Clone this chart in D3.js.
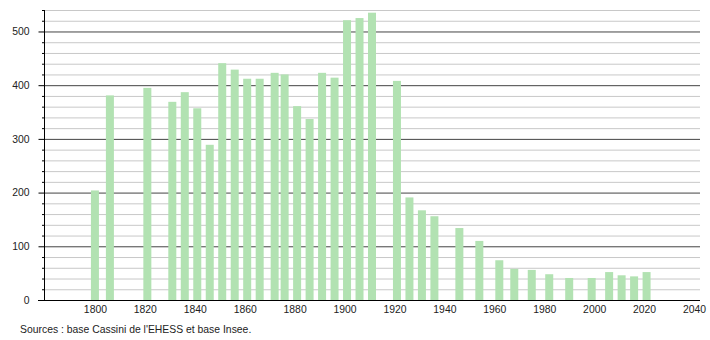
<!DOCTYPE html>
<html>
<head>
<meta charset="utf-8">
<script src="https://cdn.jsdelivr.net/npm/d3@7"></script>
<style>
  body { margin: 0; background: #fff; }
  svg text { font-family: "Liberation Sans", Arial, sans-serif; fill: #222; }
</style>
</head>
<body>
<svg id="canvas" width="710" height="340"></svg>
<script>
// census years and population
let years = [1800, 1806, 1821, 1831, 1836, 1841, 1846, 1851, 1856, 1861, 1866, 1872, 1876,
             1881, 1886, 1891, 1896, 1901, 1906, 1911, 1921, 1926, 1931, 1936, 1946, 1954,
             1962, 1968, 1975, 1982, 1990, 1999, 2006, 2011, 2016, 2021];
let population = [204, 381, 395, 369, 387, 357, 289, 441, 429, 412, 412, 423, 420,
                  361, 337, 423, 414, 521, 525, 535, 408, 191, 167, 156, 134, 110,
                  74, 58, 56, 48, 41, 41, 52, 46, 44, 52];
let xTicks = [1800, 1820, 1840, 1860, 1880, 1900, 1920, 1940, 1960, 1980, 2000, 2020, 2040];
let yTicks = [0, 100, 200, 300, 400, 500];
let sourceText = "Sources : base Cassini de l'EHESS et base Insee.";

const plotLeft = 44, plotRight = 700, plotTop = 10, plotBottom = 300;
const barWidth = 8;
const fontSize = 10.4;

let svg = d3.select('#canvas');

let x = d3.scaleLinear().domain([1779.6, 2042.4]).range([plotLeft, plotRight]);
let y = d3.scaleLinear().domain([0, 540]).range([plotBottom, plotTop]);

// minor gridlines every 20
let minor = d3.range(20, 541, 20).filter(v => v % 100 != 0);
svg.append('g').selectAll('line')
    .data(minor)
    .join('line')
    .attr('x1', plotLeft).attr('x2', plotRight)
    .attr('y1', d => y(d) + 0.5).attr('y2', d => y(d) + 0.5)
    .attr('stroke', '#c8c8c8');

// major gridlines
svg.append('g').selectAll('line')
    .data(yTicks.filter(d => d > 0))
    .join('line')
    .attr('x1', plotLeft).attr('x2', plotRight)
    .attr('y1', d => y(d) + 0.5).attr('y2', d => y(d) + 0.5)
    .attr('stroke', '#444');

// bars
svg.append('g').selectAll('rect')
    .data(years)
    .join('rect')
    .attr('x', (d, i) => x(d) - barWidth / 2)
    .attr('y', (d, i) => y(population[i]))
    .attr('width', barWidth)
    .attr('height', (d, i) => y(0) - y(population[i]))
    .attr('fill', '#b2e2b2');

// y axis with major + minor ticks
let yAxis = d3.axisLeft(y).tickValues(yTicks).tickSize(6).tickPadding(9);
let yg = svg.append('g').attr('transform', `translate(${plotLeft + 0.5},0)`).call(yAxis);
yg.select('.domain').attr('stroke', '#000').attr('d', `M0,${plotTop}V${plotBottom}`);
yg.selectAll('.tick line').attr('stroke', '#000');
yg.selectAll('.tick text').attr('font-size', fontSize).attr('font-family', '"Liberation Sans", Arial, sans-serif').attr('fill', '#222');
yg.selectAll('.tick').attr('transform', d => `translate(0,${y(d) + 0.5})`);

svg.append('g').selectAll('line')
    .data(minor)
    .join('line')
    .attr('x1', plotLeft - 2).attr('x2', plotLeft)
    .attr('y1', d => y(d) + 0.5).attr('y2', d => y(d) + 0.5)
    .attr('stroke', '#000');

// x axis
let xAxis = d3.axisBottom(x).tickValues(xTicks).tickSize(0).tickPadding(5).tickFormat(d3.format('d'));
let xg = svg.append('g').attr('transform', `translate(0,${plotBottom + 0.5})`).call(xAxis);
xg.select('.domain').attr('stroke', '#000').attr('d', `M${plotLeft - 6},0H${plotRight}`);
xg.selectAll('.tick text').attr('font-size', fontSize).attr('font-family', '"Liberation Sans", Arial, sans-serif').attr('fill', '#222');

svg.append('text')
    .attr('x', 20).attr('y', 333)
    .attr('font-size', fontSize)
    .text(sourceText);
</script>
</body>
</html>
